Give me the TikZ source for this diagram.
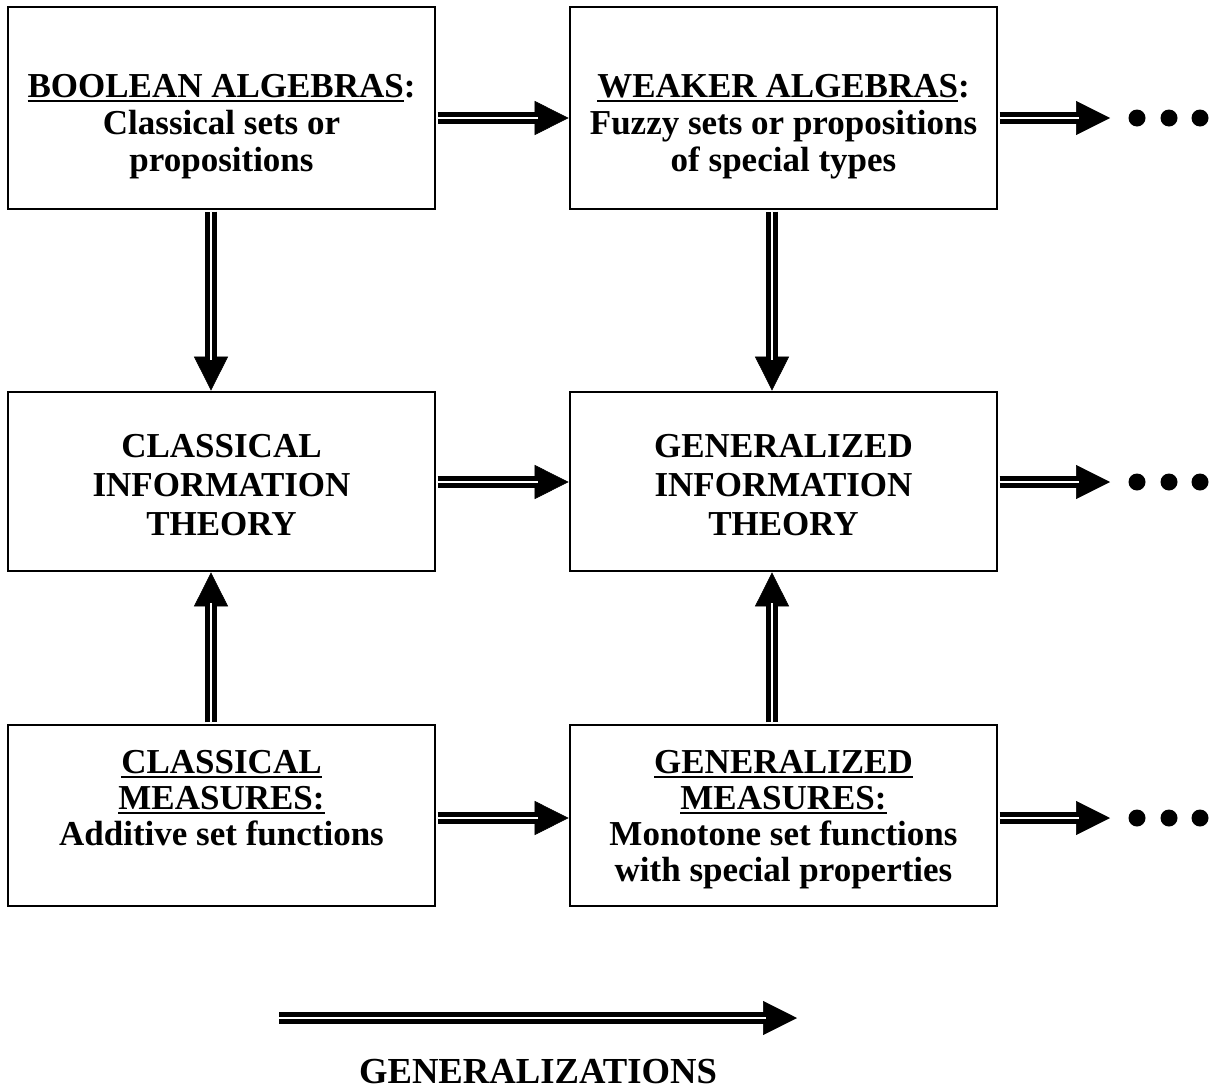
\documentclass[tikz,border=0pt]{standalone}
\usepackage{fontspec}
\setmainfont{Liberation Serif}
\usetikzlibrary{arrows.meta,calc}

% underline with a rule that scales with the large bold type
\newsavebox\undlbox
\newcommand\undl[1]{\sbox\undlbox{#1}\rlap{\rule[-3.8pt]{\wd\undlbox}{1.7pt}}\usebox\undlbox}

\begin{document}
\begin{tikzpicture}[x=0.75pt,y=-0.75pt,
  box/.style={draw, line width=2pt, inner sep=0pt, minimum width=320.25pt},
  txt/.style={font=\bfseries\fontsize{26.25pt}{27.75pt}\selectfont, align=center, anchor=base, inner sep=0pt},
  tipline/.style={line width=0.4pt, shorten <=1pt, -{Triangle[length=25.5pt,width=25.5pt]}},
  shaft/.style={line width=3.6pt, double=white, double distance=2.2pt, shorten >=23pt, shorten <=1pt},
  dot/.style={circle, fill, inner sep=0pt, minimum size=12.75pt}]

\useasboundingbox (0,0) rectangle (1214,1089);

% boxes
\node[box, minimum height=151.5pt]  (A) at (221.5,108) {};
\node[box, minimum height=151.5pt]  (B) at (783.5,108) {};
\node[box, minimum height=134.25pt] (C) at (221.5,481.5) {};
\node[box, minimum height=134.25pt] (D) at (783.5,481.5) {};
\node[box, minimum height=135.75pt] (E) at (221.5,815.5) {};
\node[box, minimum height=135.75pt] (F) at (783.5,815.5) {};

% box texts (anchored at the baseline of the last line)
\node[txt] (tA) at (221.5,171) {\undl{BOOLEAN ALGEBRAS}:\\Classical sets or\\propositions};
\node[txt] (tB) at (783.5,171) {\undl{WEAKER ALGEBRAS}:\\Fuzzy sets or propositions\\of special types};
\node[txt, font=\bfseries\fontsize{26.25pt}{29.25pt}\selectfont] (tC) at (221.5,535) {CLASSICAL\\INFORMATION\\THEORY};
\node[txt, font=\bfseries\fontsize{26.25pt}{29.25pt}\selectfont] (tD) at (783.5,535) {GENERALIZED\\INFORMATION\\THEORY};
\node[txt, font=\bfseries\fontsize{26.25pt}{27pt}\selectfont] (tE) at (221.5,845) {\undl{CLASSICAL}\\\undl{MEASURES:}\\Additive set functions};
\node[txt, font=\bfseries\fontsize{26.25pt}{27pt}\selectfont] (tF) at (783.5,881) {\undl{GENERALIZED}\\\undl{MEASURES:}\\Monotone set functions\\with special properties};

% rows and columns of the connectors
\coordinate (row1) at (0,118);
\coordinate (row2) at (0,482);
\coordinate (row3) at (0,818);
\coordinate (colL) at (211,0);
\coordinate (colR) at (772,0);

% open ends on the right
\coordinate (e1) at (1110,118);
\coordinate (e2) at (1110,482);
\coordinate (e3) at (1110,818);

% ellipsis dots
\foreach \r/\y in {1/118,2/482,3/818}{
  \node[dot] (d\r a) at (1137,\y) {};
  \node[dot] (d\r b) at (1169,\y) {};
  \node[dot] (d\r c) at (1200,\y) {};
}

% legend arrow
\coordinate (gs) at (278,1018);
\coordinate (ge) at (797,1018);
\node[txt, font=\bfseries\fontsize{27.5pt}{30pt}\selectfont] (gl) at (538,1083) {GENERALIZATIONS};

% double-shafted arrows
\foreach \p/\q in {A.east |- row1/B.west |- row1, B.east |- row1/e1,
                   C.east |- row2/D.west |- row2, D.east |- row2/e2,
                   E.east |- row3/F.west |- row3, F.east |- row3/e3,
                   A.south -| colL/C.north -| colL, B.south -| colR/D.north -| colR,
                   E.north -| colL/C.south -| colL, F.north -| colR/D.south -| colR,
                   gs/ge}{
  \draw[tipline] (\p) -- (\q);
  \draw[shaft] (\p) -- (\q);
}
\end{tikzpicture}
\end{document}
